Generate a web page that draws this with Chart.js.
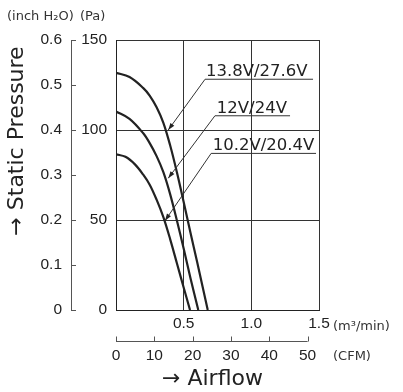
<!DOCTYPE html>
<html><head><meta charset="utf-8">
<script src="https://cdn.jsdelivr.net/npm/chart.js@4.4.1/dist/chart.umd.min.js"></script>
<style>html,body{margin:0;padding:0;background:#fff}#wrap{width:403px;height:392px;position:relative}</style>
</head><body><div id="wrap"><canvas id="c" width="403" height="392"></canvas></div>
<script>
// ---- data ----
const SERIES_LABELS = ['13.8V/27.6V', '12V/24V', '10.2V/20.4V'];
const FLOW_138  = [0, 0.1, 0.2, 0.25, 0.3, 0.35, 0.4, 0.45, 0.5, 0.55, 0.6, 0.678];
const PRESS_138 = [131.8, 129.4, 123.4, 119.0, 112.6, 104.0, 91.5, 76.5, 60.0, 43.0, 26.5, 0];
const FLOW_120  = [0, 0.1, 0.2, 0.25, 0.3, 0.35, 0.4, 0.45, 0.5, 0.55, 0.608];
const PRESS_120 = [110.3, 106.2, 98.3, 92.6, 85.5, 76.6, 64.4, 49.7, 34.1, 17.8, 0];
const FLOW_102  = [0, 0.07, 0.14, 0.2, 0.25, 0.3, 0.35, 0.4, 0.45, 0.5, 0.547];
const PRESS_102 = [86.5, 85.1, 80.9, 75.3, 69.5, 61.3, 51.6, 39.4, 26.0, 12.5, 0];

const M3_TICKS = [0, 0.5, 1.0, 1.5];
const M3_TICK_LABELS = ['', '0.5', '1.0', '1.5'];
const CFM_TICKS = [0, 10, 20, 30, 40, 50];
const CFM_TICK_LABELS = ['0', '10', '20', '30', '40', '50'];
const PA_TICKS = [0, 50, 100, 150];
const PA_TICK_LABELS = ['0', '50', '100', '150'];
const IN_TICKS = [0, 0.1, 0.2, 0.3, 0.4, 0.5, 0.6];
const IN_TICK_LABELS = ['0', '0.1', '0.2', '0.3', '0.4', '0.5', '0.6'];
const CFM_PER_M3 = 35.3147;

const X_UNIT = '(m³/min)';
const CFM_UNIT = '(CFM)';
const Y_UNITS = ['(inch H₂O)', '(Pa)'];
const X_TITLE = '→ Airflow';
const Y_TITLE = '→ Static Pressure';

// ---- styles ----
const INK = '#222';
const TICK_FAMILY = "'Liberation Sans Narrow', 'Arial Narrow', 'Liberation Sans', sans-serif";
const TEXT_FAMILY = "'DejaVu Sans', sans-serif";
const TICKF = { family: TICK_FAMILY, size: 15.5 };

function pts(xs, ys) { return xs.map((x, i) => ({ x: x, y: ys[i] })); }

// annotation layout (data coordinates of scales x / y)
const ANNOT = [
  { text: 0, tx: 0.665, ty: 129.9, uy: 128.2, ux0: 0.658, ux1: 1.456, tipx: 0.386, tipy: 100.0 },
  { text: 1, tx: 0.745, ty: 109.3, uy: 107.9, ux0: 0.731, ux1: 1.286, tipx: 0.386, tipy: 73.2 },
  { text: 2, tx: 0.715, ty: 88.9,  uy: 87.0,  ux0: 0.703, ux1: 1.478, tipx: 0.362, tipy: 49.6 }
];

const overlay = {
  id: 'overlay',
  afterDraw(chart) {
    const { ctx, scales } = chart;
    const xs = scales.x, ys = scales.y, yi = scales.yIn, xc = scales.xCfm;
    ctx.save();
    // inch axis tick marks (pointing right)
    ctx.strokeStyle = '#555'; ctx.lineWidth = 1;
    IN_TICKS.forEach(v => {
      const py = Math.round(yi.getPixelForValue(v)) + 0.5;
      ctx.beginPath(); ctx.moveTo(yi.right, py); ctx.lineTo(yi.right + 5, py); ctx.stroke();
    });
    // CFM axis line + upward ticks
    const ly = Math.round(xc.top + 3) + 0.5;
    ctx.strokeStyle = '#555';
    ctx.beginPath();
    ctx.moveTo(xc.getPixelForValue(CFM_TICKS[0]), ly);
    ctx.lineTo(xc.getPixelForValue(CFM_TICKS[CFM_TICKS.length - 1]), ly);
    ctx.stroke();
    CFM_TICKS.forEach(v => {
      const px = Math.round(xc.getPixelForValue(v)) + 0.5;
      ctx.beginPath(); ctx.moveTo(px, ly); ctx.lineTo(px, ly - 5); ctx.stroke();
    });
    // annotations
    ctx.fillStyle = INK; ctx.strokeStyle = '#333'; ctx.lineWidth = 1;
    ctx.font = '16.5px ' + TEXT_FAMILY;
    ctx.textAlign = 'left'; ctx.textBaseline = 'alphabetic';
    ANNOT.forEach(a => {
      const X = v => xs.getPixelForValue(v), Y = v => ys.getPixelForValue(v);
      ctx.fillText(SERIES_LABELS[a.text], X(a.tx), Y(a.ty));
      ctx.beginPath(); ctx.moveTo(X(a.ux0), Y(a.uy)); ctx.lineTo(X(a.ux1), Y(a.uy)); ctx.stroke();
      const sx = X(a.ux0), sy = Y(a.uy), ex = X(a.tipx), ey = Y(a.tipy);
      ctx.beginPath(); ctx.moveTo(sx, sy); ctx.lineTo(ex, ey); ctx.stroke();
      const ang = Math.atan2(ey - sy, ex - sx), L = 7, W = 2.4;
      const bx = ex - L * Math.cos(ang), by = ey - L * Math.sin(ang);
      ctx.beginPath();
      ctx.moveTo(ex, ey);
      ctx.lineTo(bx + W * Math.sin(ang), by - W * Math.cos(ang));
      ctx.lineTo(bx - W * Math.sin(ang), by + W * Math.cos(ang));
      ctx.closePath(); ctx.fill();
    });
    // units
    ctx.fillStyle = '#333';
    ctx.font = '13px ' + TEXT_FAMILY;
    ctx.fillText(Y_UNITS[0], 7, 20);
    ctx.fillText(Y_UNITS[1], 80, 20);
    ctx.fillText(X_UNIT, 333, 330);
    ctx.fillText(CFM_UNIT, 333, 360);
    // titles
    ctx.fillStyle = INK;
    ctx.font = '22px ' + TEXT_FAMILY;
    ctx.textAlign = 'center';
    ctx.fillText(X_TITLE, 212.5, 385);
    ctx.save();
    ctx.translate(23, 141);
    ctx.rotate(-Math.PI / 2);
    ctx.font = '22px ' + TEXT_FAMILY;
    ctx.fillText(Y_TITLE, 0, 0);
    ctx.restore();
    ctx.restore();
  }
};

const lineDs = (i, xs, ys) => ({
  label: SERIES_LABELS[i], data: pts(xs, ys), borderColor: INK, borderWidth: 2.2,
  pointRadius: 0, fill: false, tension: 0.35, xAxisID: 'x', yAxisID: 'y'
});

new Chart(document.getElementById('c'), {
  type: 'line',
  data: { datasets: [lineDs(0, FLOW_138, PRESS_138), lineDs(1, FLOW_120, PRESS_120), lineDs(2, FLOW_102, PRESS_102)] },
  options: {
    responsive: false, animation: false, devicePixelRatio: 1,
    layout: { padding: { top: 40, right: 84, bottom: 0, left: 0 } },
    plugins: { legend: { display: false }, tooltip: { enabled: false } },
    scales: {
      x: {
        type: 'linear', position: 'bottom', min: 0, max: 1.5, weight: 0,
        afterBuildTicks: s => { s.ticks = M3_TICKS.map(v => ({ value: v })); },
        afterFit: s => { s.height = 28; },
        ticks: { callback: (v, i) => M3_TICK_LABELS[i], padding: 4, font: TICKF, color: INK, maxRotation: 0, autoSkip: false },
        grid: { color: '#333', lineWidth: 1, drawTicks: false },
        border: { display: true, color: INK, width: 1 }
      },
      xCfm: {
        type: 'linear', position: 'bottom', min: 0, max: 1.5 * CFM_PER_M3, weight: 1,
        afterBuildTicks: s => { s.ticks = CFM_TICKS.map(v => ({ value: v })); },
        afterFit: s => { s.height = 54; },
        ticks: { callback: (v, i) => CFM_TICK_LABELS[i], padding: 8, font: TICKF, color: INK, maxRotation: 0, autoSkip: false },
        grid: { display: false, drawTicks: false },
        border: { display: false }
      },
      y: {
        type: 'linear', position: 'left', min: 0, max: 150, weight: 0,
        afterBuildTicks: s => { s.ticks = PA_TICKS.map(v => ({ value: v })); },
        afterFit: s => { s.width = 45; },
        ticks: { callback: (v, i) => PA_TICK_LABELS[i], padding: 9, font: TICKF, color: INK },
        grid: { color: '#333', lineWidth: 1, drawTicks: false },
        border: { display: true, color: INK, width: 1 }
      },
      yIn: {
        type: 'linear', position: 'left', min: 0, max: 0.6, weight: 1,
        afterBuildTicks: s => { s.ticks = IN_TICKS.map(v => ({ value: v })); },
        afterFit: s => { s.width = 71; },
        ticks: { callback: (v, i) => IN_TICK_LABELS[i], padding: 9, font: TICKF, color: INK },
        grid: { display: false, drawTicks: false },
        border: { display: true, color: '#555', width: 1 }
      }
    }
  },
  plugins: [overlay]
});
</script></body></html>
